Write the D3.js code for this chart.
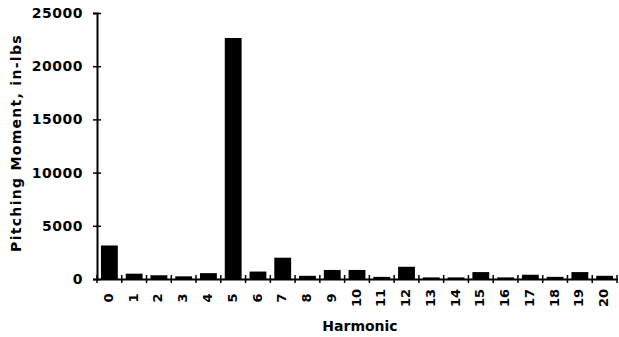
<!DOCTYPE html>
<html>
<head>
<meta charset="utf-8">
<script src="https://cdn.jsdelivr.net/npm/d3@7"></script>
<style>
  body { margin: 0; background: #fff; }
  svg text { font-family: "DejaVu Sans", sans-serif; font-weight: bold; fill: #000; }
</style>
</head>
<body>
<div id="chart"></div>
<script>
// harmonic number and pitching moment (in-lbs)
const harmonics = ['0','1','2','3','4','5','6','7','8','9','10','11','12','13','14','15','16','17','18','19','20'];
const moments = [3150, 500, 350, 250, 550, 22650, 700, 2000, 300, 850, 850, 200, 1150, 150, 150, 650, 150, 400, 200, 650, 300];
const yTicks = [0, 5000, 10000, 15000, 20000, 25000];

const width = 619, height = 337;
const margin = { top: 13, right: 2, bottom: 58, left: 97 };

const svg = d3.select('#chart')
    .append('svg')
    .attr('width', width)
    .attr('height', height);

const x = d3.scaleBand()
    .domain(harmonics)
    .range([margin.left, width - margin.right])
    .paddingInner(0.32)
    .paddingOuter(0.16);

const y = d3.scaleLinear()
    .domain([0, 25000])
    .range([height - margin.bottom, margin.top]);

// bars
svg.append('g')
    .selectAll('rect')
    .data(moments)
    .enter()
    .append('rect')
    .attr('x', (d, i) => x(harmonics[i]))
    .attr('y', d => y(d))
    .attr('width', x.bandwidth())
    .attr('height', d => y(0) - y(d))
    .attr('fill', '#000');

// y axis, ticks cross the line
const yAxis = svg.append('g')
    .attr('transform', `translate(${margin.left},0)`)
    .call(d3.axisLeft(y).tickValues(yTicks).tickFormat(d3.format('d')).tickSize(4).tickPadding(10));
yAxis.select('.domain').attr('stroke-width', 2);
yAxis.selectAll('.tick line').attr('x1', -4).attr('x2', 4).attr('stroke-width', 1.5);
yAxis.selectAll('.tick text')
    .style('font-size', '14px')
    .style('letter-spacing', '0.5px')
    .style('font-family', '"DejaVu Sans", sans-serif');

// x axis line, ticks at band boundaries
const xAxis = svg.append('g')
    .attr('transform', `translate(0,${y(0)})`)
    .call(d3.axisBottom(x).tickSize(0).tickFormat(''));
xAxis.select('.domain').attr('stroke-width', 2);

const gap = (x.step() - x.bandwidth()) / 2;
const bounds = harmonics.map(h => x(h) - gap).concat([x(harmonics[harmonics.length - 1]) + x.bandwidth() + gap]);
xAxis.selectAll('.bound')
    .data(bounds)
    .enter()
    .append('line')
    .attr('class', 'bound')
    .attr('x1', d => d)
    .attr('x2', d => d)
    .attr('y1', -4)
    .attr('y2', 4)
    .attr('stroke', '#000')
    .attr('stroke-width', 1.5);

// rotated harmonic labels, reading bottom to top
svg.append('g')
    .attr('class', 'x-labels')
    .attr('transform', 'rotate(-90)')
    .selectAll('text')
    .data(harmonics)
    .enter()
    .append('text')
    .attr('x', -(y(0) + 19))
    .attr('y', d => x(d) + x.bandwidth() / 2 - 1)
    .attr('text-anchor', 'middle')
    .attr('dy', '0.35em')
    .style('font-size', '13px')
    .text(d => d);

// axis titles
svg.append('text')
    .attr('transform', `translate(21,143) rotate(-90)`)
    .attr('text-anchor', 'middle')
    .style('font-size', '14px')
    .style('letter-spacing', '1.3px')
    .text('Pitching Moment, in-lbs');

svg.append('text')
    .attr('x', 360)
    .attr('y', 331)
    .attr('text-anchor', 'middle')
    .style('font-size', '14px')
    .text('Harmonic');
</script>
</body>
</html>
